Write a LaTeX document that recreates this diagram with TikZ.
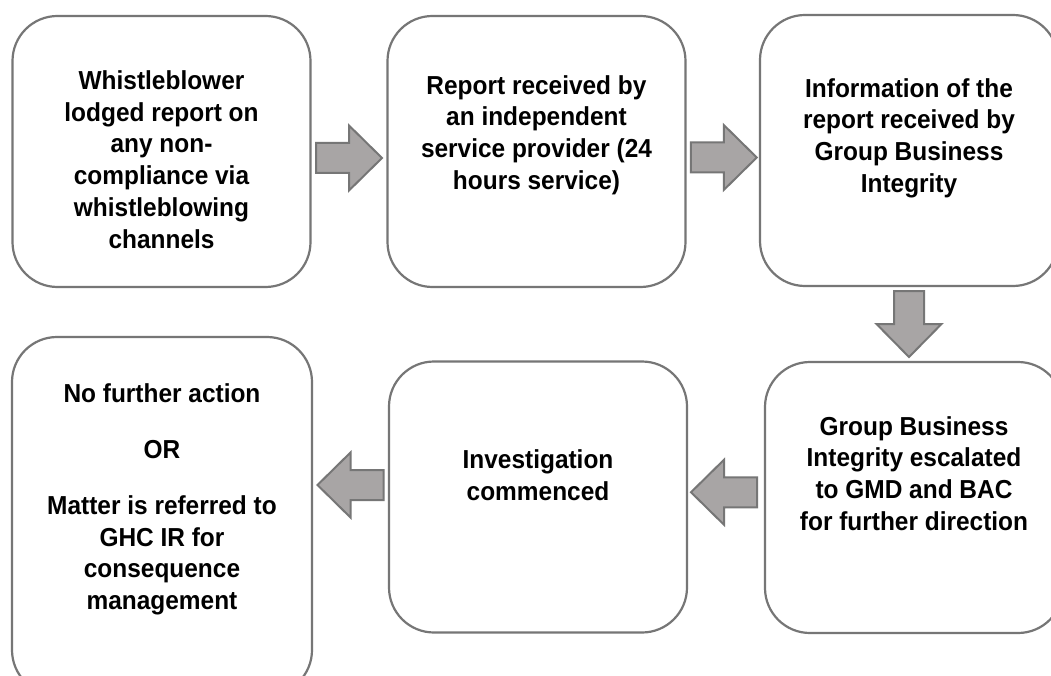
\documentclass[tikz,border=0pt]{standalone}
\usepackage{fontspec}
\setmainfont{Liberation Sans}
\newfontfamily\stepfont[FakeStretch=0.94]{Liberation Sans}
\usetikzlibrary{calc}

\definecolor{boxedge}{RGB}{118,118,118}
\definecolor{arrowfill}{RGB}{168,165,165}
\definecolor{arrowedge}{RGB}{118,118,118}

\tikzset{
  stepbox/.style={draw=boxedge, line width=2.2pt, fill=white,
    rounded corners=45pt, inner sep=0pt,
    minimum width=298pt, minimum height=271pt},
  steptext/.style={align=center, inner sep=0pt,
    font=\stepfont\bfseries\fontsize{26pt}{31.7pt}\selectfont},
  blockarrow/.pic={
    \path[draw=arrowedge, line width=2pt, fill=arrowfill, line join=miter]
      (-33pt,-15pt) -- (0pt,-15pt) -- (0pt,-32.5pt) -- (33pt,0pt)
      -- (0pt,32.5pt) -- (0pt,15pt) -- (-33pt,15pt) -- cycle;
  }
}

\begin{document}
\begin{tikzpicture}[x=1pt, y=1pt]
  \useasboundingbox (0,0) rectangle (1051,-676);
  \clip (0,0) rectangle (1051,-676);
  \fill[white] (0,0) rectangle (1051,-676);

  % top row
  \node[stepbox] (b1) at (161.5,-151.5) {};
  \node[stepbox] (b2) at (536.5,-151.5) {};
  \node[stepbox] (b3) at (909,-150.5) {};
  % bottom row
  \node[stepbox, minimum width=300pt, minimum height=358pt] (b4) at (162,-516) {};
  \node[stepbox] (b5) at (538,-497) {};
  \node[stepbox] (b6) at (914,-497.5) {};

  % step texts
  \node[steptext] (t1) at ([yshift=-8pt]b1.center)
    {Whistleblower\\lodged report on\\any non-\\compliance via\\whistleblowing\\channels};
  \node[steptext] (t2) at ([yshift=16.5pt]b2.center)
    {Report received by\\an independent\\service provider (24\\hours service)};
  \node[steptext] (t3) at ([yshift=12.5pt]b3.center)
    {Information of the\\report received by\\Group Business\\Integrity};
  \node[steptext] (t4) at ([yshift=16.5pt]b4.center)
    {No further action\\[24pt]OR\\[24pt]Matter is referred to\\GHC IR for\\consequence\\management};
  \node[steptext] (t5) at ([yshift=22pt]b5.center)
    {Investigation\\commenced};
  \node[steptext] (t6) at ([yshift=24pt]b6.center)
    {Group Business\\Integrity escalated\\to GMD and BAC\\for further direction};

  % flow arrows
  \pic at ($(b1.east)!0.5!(b2.west)+(0,-6.5)$) {blockarrow};
  \pic at ($(b2.east)!0.5!(b3.west)+(1,-6.5)$) {blockarrow};
  \pic[rotate=-90] at ($(b3.south)!0.5!(b3.south |- b6.north)$) {blockarrow};
  \pic[rotate=180] at ($(b5.east)!0.5!(b6.west)+(-2,5)$) {blockarrow};
  \pic[rotate=180] at ($(b4.east |- b5.west)!0.5!(b5.west)+(0,12)$) {blockarrow};
\end{tikzpicture}
\end{document}
